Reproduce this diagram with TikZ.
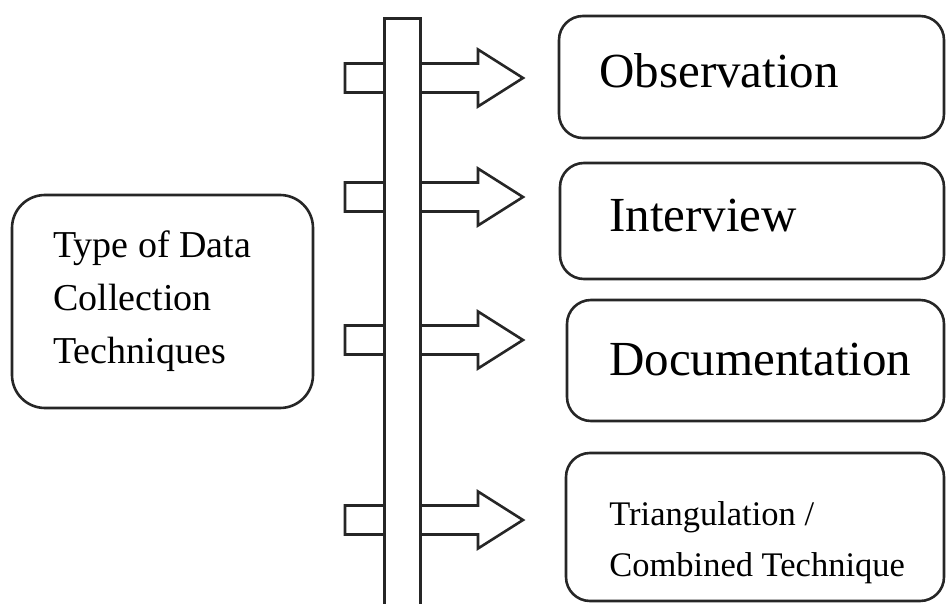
\documentclass[tikz,border=0pt]{standalone}
\usepackage{fontspec}
\setmainfont{Liberation Serif}
\begin{document}
\begin{tikzpicture}[x=1pt,y=-1pt,
  line width=2.6pt,
  boxstyle/.style={draw=black!85, rounded corners=24pt, fill=white, inner sep=0pt},
  bigtext/.style={anchor=base west, inner sep=0pt, font=\fontsize{49}{58}\selectfont},
  midtext/.style={anchor=base west, inner sep=0pt, font=\fontsize{38}{53}\selectfont},
  smalltext/.style={anchor=base west, inner sep=0pt, font=\fontsize{34.5}{50}\selectfont},
  blockarrow/.style={draw=black!85, fill=white, line join=miter}
]
\useasboundingbox (0,0) rectangle (947,604);
\clip (0,0) rectangle (947,604);

% block arrows (drawn first, bar covers them)
\foreach \c in {78,197,340,520}{
  \draw[blockarrow] (345,\c-14.5) -- (478,\c-14.5) -- (478,\c-28.5) -- (523,\c)
     -- (478,\c+28.5) -- (478,\c+14.5) -- (345,\c+14.5) -- cycle;
}

% vertical bar
\node[draw=black!85, fill=white, inner sep=0pt, minimum width=36pt, minimum height=600pt, anchor=north west] (bar) at (383,17) {};

% left box
\draw[boxstyle, rounded corners=33pt] (12,195) rectangle (313,408);
\node[midtext] (t1) at (52,257) {Type of Data};
\node[midtext] (t2) at (52,310) {Collection};
\node[midtext] (t3) at (52,363) {Techniques};

% right boxes
\draw[boxstyle] (559,16) rectangle (944,138);
\node[bigtext] (obs) at (598,88) {Observation};

\draw[boxstyle] (560,163) rectangle (944,279);
\node[bigtext] (int) at (608,231) {Interview};

\draw[boxstyle] (567,300) rectangle (944,421);
\node[bigtext] (doc) at (608,375) {Documentation};

\draw[boxstyle] (566,453) rectangle (944,601);
\node[smalltext] (tri1) at (608,525) {Triangulation /};
\node[smalltext] (tri2) at (608,576) {Combined Technique};
\end{tikzpicture}
\end{document}
